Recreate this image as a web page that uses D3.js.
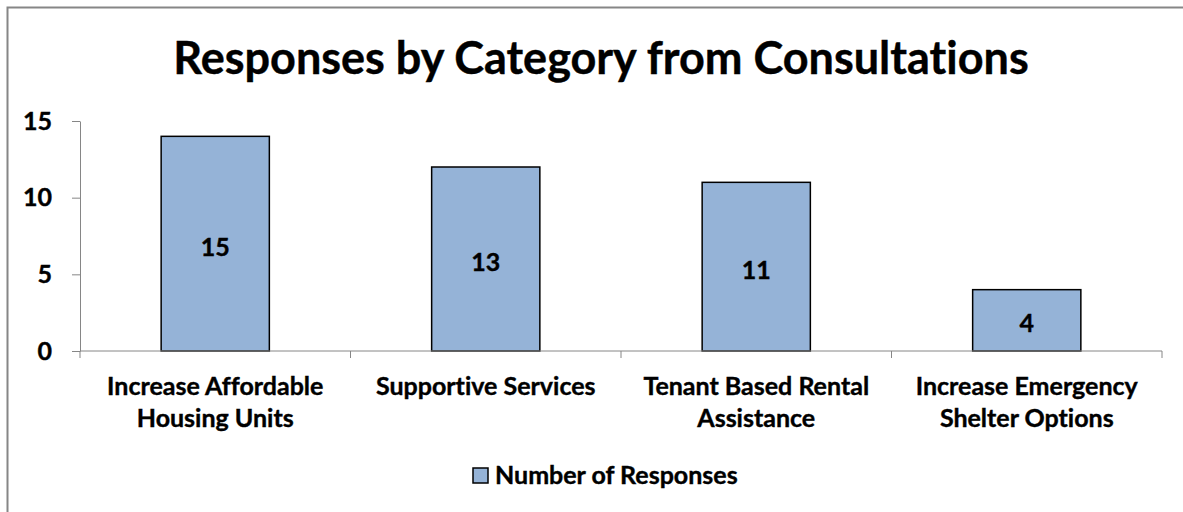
<!DOCTYPE html>
<html>
<head>
<meta charset="utf-8">
<script src="https://cdn.jsdelivr.net/npm/d3@7"></script>
<style>
  body { margin: 0; background: #fff; }
  text { font-family: Lato, "Open Sans", sans-serif; font-weight: bold; fill: #000; stroke: #000; stroke-width: 0.4px; font-variant-ligatures: none; }
</style>
</head>
<body>
<div id="chart"></div>
<script>
const width = 1183;
const height = 512;

// data (labels printed in bars differ from bar heights)
const categories = [
  ["Increase Affordable", "Housing Units"],
  ["Supportive Services"],
  ["Tenant Based Rental", "Assistance"],
  ["Increase Emergency", "Shelter Options"]
];
const values = [14, 12, 11, 4];
const barLabels = ["15", "13", "11", "4"];
const yTicks = [0, 5, 10, 15];
const seriesName = "Number of Responses";
const title = "Responses by Category from Consultations";

const barColor = "#95b3d7";
const axisColor = "#868686";
const fontSize = "25px";

const margin = { left: 80, right: 21, top: 121, bottom: 161 };

const svg = d3.select("#chart").append("svg")
  .attr("width", width)
  .attr("height", height);

// outer chart border
svg.append("rect")
  .attr("x", 7.5).attr("y", 7.5)
  .attr("width", width + 20).attr("height", height + 20)
  .attr("fill", "none")
  .attr("stroke", axisColor)
  .attr("stroke-width", 2);

svg.append("text")
  .attr("x", 601).attr("y", 74)
  .attr("text-anchor", "middle")
  .style("font-size", "45px")
  .text(title);

const x = d3.scaleBand()
  .domain(d3.range(categories.length))
  .range([margin.left, width - margin.right]);

const y = d3.scaleLinear()
  .domain([0, 15])
  .range([height - margin.bottom, margin.top]);

// y axis
const yAxis = svg.append("g")
  .attr("transform", "translate(" + margin.left + ",0)")
  .call(d3.axisLeft(y).tickValues(yTicks).tickSize(8).tickPadding(20).tickSizeOuter(0));
yAxis.select(".domain").attr("stroke", axisColor);
yAxis.selectAll(".tick line").attr("stroke", axisColor);
yAxis.selectAll(".tick text").style("font-size", fontSize).attr("fill", "#000");

// bars
const barW = x.bandwidth() * 0.4;
svg.selectAll(".bar")
  .data(values)
  .enter()
  .append("rect")
  .attr("class", "bar")
  .attr("x", (d, i) => x(i) + (x.bandwidth() - barW) / 2)
  .attr("y", d => y(d))
  .attr("width", barW)
  .attr("height", d => y(0) - y(d))
  .attr("fill", barColor)
  .attr("stroke", "#000")
  .attr("stroke-width", 1.5);

svg.selectAll(".barlabel")
  .data(values)
  .enter()
  .append("text")
  .attr("class", "barlabel")
  .attr("x", (d, i) => x(i) + x.bandwidth() / 2)
  .attr("y", d => (y(d) + y(0)) / 2 + 12)
  .attr("text-anchor", "middle")
  .style("font-size", fontSize)
  .text((d, i) => barLabels[i]);

// x axis
const xAxis = svg.append("g")
  .attr("transform", "translate(0," + y(0) + ")");
xAxis.append("line")
  .attr("x1", margin.left).attr("x2", width - margin.right)
  .attr("stroke", axisColor);
xAxis.selectAll(".xtick")
  .data(d3.range(categories.length + 1))
  .enter()
  .append("line")
  .attr("x1", i => i < categories.length ? x(i) : x(i - 1) + x.bandwidth())
  .attr("x2", i => i < categories.length ? x(i) : x(i - 1) + x.bandwidth())
  .attr("y1", 0).attr("y2", 7)
  .attr("stroke", axisColor);

const catText = xAxis.selectAll(".cat")
  .data(categories)
  .enter()
  .append("text")
  .attr("class", "cat")
  .attr("text-anchor", "middle")
  .attr("transform", (d, i) => "translate(" + (x(i) + x.bandwidth() / 2) + ",44)")
  .style("font-size", fontSize);
catText.selectAll("tspan")
  .data(d => d)
  .enter()
  .append("tspan")
  .attr("x", 0)
  .attr("dy", (d, i) => i === 0 ? 0 : 32)
  .text(d => d);

// legend
const legend = svg.append("g").attr("transform", "translate(473,468)");
legend.append("rect")
  .attr("width", 15).attr("height", 15)
  .attr("fill", barColor)
  .attr("stroke", "#000")
  .attr("stroke-width", 1.5);
legend.append("text")
  .attr("x", 22).attr("y", 16)
  .style("font-size", fontSize)
  .text(seriesName);
</script>
</body>
</html>
